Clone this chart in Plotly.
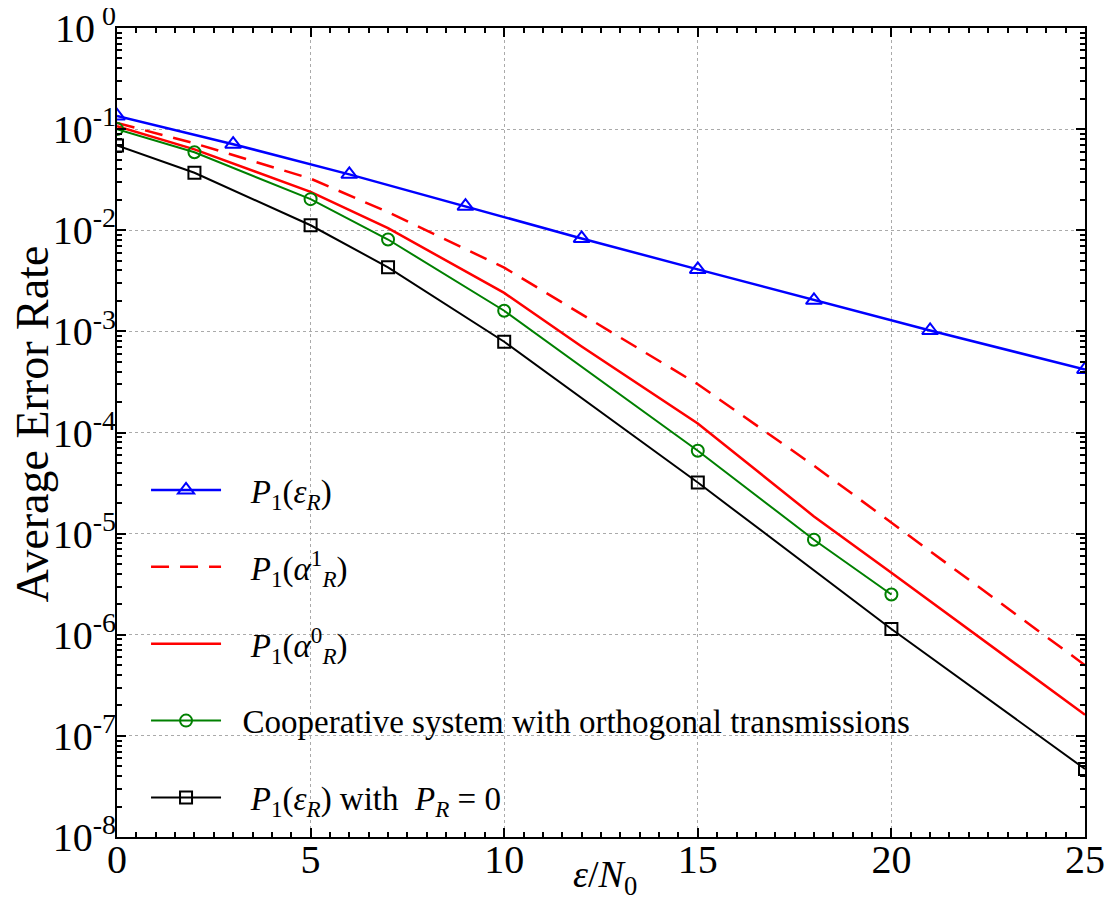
import plotly.graph_objects as go

# ---- data ----
x_blue = [0, 3, 6, 9, 12, 15, 18, 21, 25]
y_blue = [0.135, 0.071, 0.0357, 0.0173, 0.0083, 0.0041, 0.00203, 0.00102, 0.00042]

x_dash = [0, 2, 5, 7, 10, 12, 15, 18, 20, 22, 25]
y_dash = [0.115, 0.0724, 0.0324, 0.0151, 0.00427, 0.00148, 3.0e-4, 4.7e-5, 1.29e-5, 3.5e-6, 5.0e-7]

x_solid = [0, 2, 5, 7, 10, 12, 15, 18, 20, 22, 25]
y_solid = [0.107, 0.063, 0.024, 0.0105, 0.0024, 7.1e-4, 1.23e-4, 1.48e-5, 4.1e-6, 1.12e-6, 1.62e-7]

x_green = [0, 2, 5, 7, 10, 15, 18, 20]
y_green = [0.1, 0.059, 0.0203, 0.0081, 0.0016, 6.6e-5, 8.7e-6, 2.5e-6]

x_black = [0, 2, 5, 7, 10, 15, 20, 25]
y_black = [0.069, 0.037, 0.0112, 0.0043, 7.9e-4, 3.2e-5, 1.14e-6, 4.7e-8]

SP = "\u00a0\u00a0\u00a0"
names = [
    SP + "<i>P</i><sub>1</sub>(<i>ε</i><sub><i>R</i></sub>)",
    SP + "<i>P</i><sub>1</sub>(<i>α</i><sup>1</sup><sub><i>R</i></sub>)",
    SP + "<i>P</i><sub>1</sub>(<i>α</i><sup>0</sup><sub><i>R</i></sub>)",
    "\u00a0\u00a0Cooperative system with orthogonal transmissions",
    SP + "<i>P</i><sub>1</sub>(<i>ε</i><sub><i>R</i></sub>) with  <i>P</i><sub><i>R</i></sub> = 0",
]

x_ticks = [0, 5, 10, 15, 20, 25]
y_exps = [0, -1, -2, -3, -4, -5, -6, -7, -8]

x_title = "<i>ε</i>/<i>N</i><sub>0</sub>"
y_title = "Average Error Rate"

SERIF = "Liberation Serif, Times New Roman, serif"

fig = go.Figure()
fig.add_trace(go.Scatter(x=x_blue, y=y_blue, name=names[0], legendgroup="a",
                         mode="lines+markers", line=dict(color="#0000ff", width=2.5),
                         marker=dict(symbol="triangle-up-open", size=14, color="#0000ff",
                                     line=dict(width=2, color="#0000ff"))))
fig.add_trace(go.Scatter(x=x_dash, y=y_dash, name=names[1], legendgroup="b",
                         mode="lines", line=dict(color="#ff0000", width=2.5, dash="18px,11px")))
fig.add_trace(go.Scatter(x=x_solid, y=y_solid, name=names[2], legendgroup="c",
                         mode="lines", line=dict(color="#ff0000", width=2.5)))
fig.add_trace(go.Scatter(x=x_green, y=y_green, name=names[3], legendgroup="d",
                         mode="lines+markers", line=dict(color="#008000", width=2),
                         marker=dict(symbol="circle-open", size=12, color="#008000",
                                     line=dict(width=2, color="#008000"))))
fig.add_trace(go.Scatter(x=x_black, y=y_black, name=names[4], legendgroup="e",
                         mode="lines+markers", line=dict(color="#000000", width=2),
                         marker=dict(symbol="square-open", size=12, color="#000000",
                                     line=dict(width=2, color="#000000"))))

fig.update_layout(
    width=1113, height=902,
    margin=dict(l=109, r=36, t=20, b=73, autoexpand=False),
    paper_bgcolor="white", plot_bgcolor="white",
    font=dict(family=SERIF, color="black"),
    showlegend=True,
    legend=dict(x=0.030, y=0.4636, xanchor="left", yanchor="top",
                bgcolor="rgba(0,0,0,0)", borderwidth=0,
                font=dict(family=SERIF, size=33, color="black"),
                tracegroupgap=31, itemwidth=70),
    annotations=[
        dict(text=x_title, xref="paper", yref="paper", x=0.504, y=-0.049,
             xanchor="center", yanchor="middle", showarrow=False,
             font=dict(family=SERIF, size=38, color="black")),
        dict(text=y_title, xref="paper", yref="paper", x=-0.0878, y=0.51,
             xanchor="center", yanchor="middle", showarrow=False, textangle=-90,
             font=dict(family=SERIF, size=46, color="black")),
    ],
)

fig.update_xaxes(
    range=[0, 25], tickvals=x_ticks, ticktext=[str(v) for v in x_ticks],
    tickfont=dict(family=SERIF, size=40), ticks="inside", ticklen=9, tickwidth=1.5,
    tickcolor="black", automargin=False, ticklabelstandoff=-14,
    ticklabeloverflow="allow",
    showline=True, linecolor="black", linewidth=2, mirror="allticks",
    showgrid=True, gridcolor="#aaaaaa", griddash="dot", gridwidth=1,
    zeroline=False,
    minor=dict(dtick=0.5, ticks="inside", ticklen=5, tickcolor="black", showgrid=False),
)
fig.update_yaxes(
    type="log", range=[-8, 0],
    tickvals=[10 ** e for e in y_exps],
    ticktext=["10<sup>%d</sup>" % e if e != 0 else "10<sup> 0</sup>" for e in y_exps],
    tickfont=dict(family=SERIF, size=40), ticks="inside", ticklen=9, tickwidth=1.5,
    tickcolor="black", automargin=False, ticklabelstandoff=-9,
    ticklabeloverflow="allow",
    showline=True, linecolor="black", linewidth=2, mirror="allticks",
    showgrid=True, gridcolor="#aaaaaa", griddash="dot", gridwidth=1,
    zeroline=False,
    minor=dict(dtick="D1", ticks="inside", ticklen=5, tickcolor="black", showgrid=False),
)

fig.write_html("out.html")
